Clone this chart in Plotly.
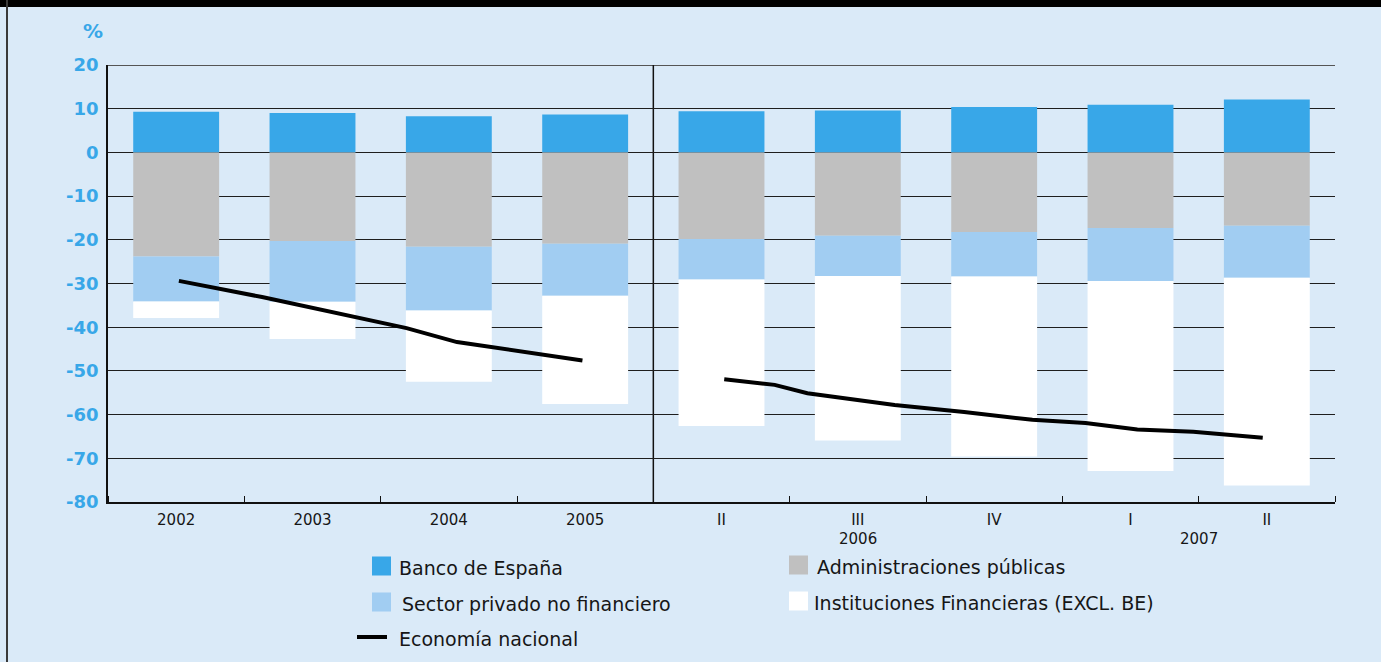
import plotly.graph_objects as go

# ---- data -------------------------------------------------------------
categories = ["2002", "2003", "2004", "2005", "II", "III", "IV", "I", "II"]
category_pos = list(range(len(categories)))

banco_espana = [9.3, 9.0, 8.3, 8.7, 9.4, 9.6, 10.4, 10.9, 12.1]
admin_publicas = [-23.8, -20.3, -21.6, -20.9, -19.8, -19.1, -18.2, -17.3, -16.8]
sector_privado = [-10.3, -13.9, -14.6, -11.9, -9.3, -9.2, -10.2, -12.1, -11.9]
inst_financieras = [-3.8, -8.5, -16.3, -24.8, -33.5, -37.6, -41.2, -43.5, -47.5]

# national economy: annual stretch, then the quarterly stretch
eco_x_annual = [0.02, 0.63, 1.69, 2.06, 2.98]
eco_y_annual = [-29.4, -33.1, -40.2, -43.4, -47.6]
eco_x_quarterly = [4.02, 4.39, 4.63, 5.27, 5.78, 6.28, 6.67, 7.05, 7.46, 7.97]
eco_y_quarterly = [-51.9, -53.2, -55.1, -57.8, -59.4, -61.2, -61.9, -63.4, -63.9, -65.3]

ytick_vals = [-80, -70, -60, -50, -40, -30, -20, -10, 0, 10, 20]
ytick_text = ["-80", "-70", "-60", "-50", "-40", "-30", "-20", "-10", "0", "10", "20"]

year_labels = ["2006", "2007"]
year_label_pos = [5.0, 7.5]

series_names = ["Banco de España", "Administraciones públicas",
                "Sector privado no financiero", "Instituciones Financieras (EXCL. BE)",
                "Economía nacional"]
series_colors = ["#38a7e8", "#c0c0c0", "#a1cdf2", "#ffffff", "#000000"]

# ---- page geometry ----------------------------------------------------
W, H = 1381, 662
ML, MR, MT, MB = 108, 46, 65, 160
PW, PH = W - ML - MR, H - MT - MB
BG = "#daeaf8"
BLUE_TXT = "#38a7e8"
TXT = "#161616"
FONT = "DejaVu Sans, Liberation Sans, sans-serif"


def px_x(px):
    return (px - ML) / PW


def px_y(py):
    return (H - MB - py) / PH


fig = go.Figure()

bar_series = [banco_espana, admin_publicas, sector_privado, inst_financieras]
for name, vals, col in zip(series_names[:4], bar_series, series_colors[:4]):
    fig.add_trace(go.Bar(
        x=category_pos, y=vals, name=name,
        marker=dict(color=col, line=dict(width=0)),
        showlegend=False,
    ))

fig.add_trace(go.Scatter(
    x=eco_x_annual + [None] + eco_x_quarterly,
    y=eco_y_annual + [None] + eco_y_quarterly,
    mode="lines", name=series_names[4],
    line=dict(color=series_colors[4], width=4),
    connectgaps=False, showlegend=False,
))

shapes = []
# top rule of the plotting area
shapes.append(dict(type="line", xref="paper", yref="y", x0=0, x1=1, y0=20, y1=20,
                   line=dict(color="#555555", width=2), layer="below"))
# separator between annual and quarterly data
shapes.append(dict(type="line", xref="x", yref="paper", x0=3.5, x1=3.5, y0=0, y1=1,
                   line=dict(color="#111111", width=1.5), layer="below"))
# dark band along the top and rule down the left edge
shapes.append(dict(type="rect", xref="paper", yref="paper",
                   x0=px_x(-5), x1=px_x(W + 5), y0=px_y(7), y1=px_y(-5),
                   fillcolor="#000000", line=dict(width=0), layer="above"))
shapes.append(dict(type="line", xref="paper", yref="paper",
                   x0=px_x(7), x1=px_x(7), y0=px_y(H + 5), y1=px_y(0),
                   line=dict(color="#3a3a3a", width=2), layer="above"))

annotations = []
annotations.append(dict(text="<b>%</b>", xref="paper", yref="paper",
                        x=px_x(93), y=px_y(31), showarrow=False,
                        xanchor="center", yanchor="middle",
                        font=dict(family=FONT, size=20, color=BLUE_TXT)))
for lab, pos in zip(year_labels, year_label_pos):
    annotations.append(dict(text=lab, xref="x", yref="paper", x=pos, y=px_y(539),
                            showarrow=False, xanchor="center", yanchor="middle",
                            font=dict(family=FONT, size=15, color=TXT)))

# legend, laid out in two columns
legend_layout = [
    # (series index, marker left px, marker centre y px, text left px)
    (0, 372, 566, 397),
    (2, 372, 602, 400),
    (4, 357, 637, 397),
    (1, 789, 565, 815),
    (3, 789, 601, 812),
]
for idx, mx, my, tx in legend_layout:
    if idx == 4:
        shapes.append(dict(type="line", xref="paper", yref="paper",
                           x0=px_x(mx), x1=px_x(mx + 30), y0=px_y(my), y1=px_y(my),
                           line=dict(color=series_colors[idx], width=4)))
    else:
        shapes.append(dict(type="rect", xref="paper", yref="paper",
                           x0=px_x(mx), x1=px_x(mx + 19),
                           y0=px_y(my + 9.5), y1=px_y(my - 9.5),
                           fillcolor=series_colors[idx], line=dict(width=0)))
    annotations.append(dict(text=series_names[idx], xref="paper", yref="paper",
                            x=px_x(tx), y=px_y(my + 2), showarrow=False,
                            xanchor="left", yanchor="middle",
                            font=dict(family=FONT, size=19, color=TXT)))

fig.update_layout(
    width=W, height=H,
    margin=dict(l=ML, r=MR, t=MT, b=MB, pad=0),
    paper_bgcolor=BG, plot_bgcolor=BG,
    barmode="relative", bargap=0.37,
    shapes=shapes, annotations=annotations,
    font=dict(family=FONT, color=TXT),
    xaxis=dict(
        range=[-0.5, 8.5], tickmode="array", tickvals=category_pos, ticktext=categories,
        ticks="", showgrid=False, zeroline=False,
        showline=True, linecolor="#111111", linewidth=1.5,
        tickfont=dict(family=FONT, size=15, color=TXT),
        ticklabelstandoff=3,
        minor=dict(tickmode="linear", tick0=-0.5, dtick=1, ticks="inside",
                   ticklen=6, tickwidth=1.2, tickcolor="#111111", showgrid=False),
    ),
    yaxis=dict(
        range=[-80, 20], tickmode="array", tickvals=ytick_vals, ticktext=ytick_text,
        ticks="", showgrid=True, gridcolor="#1e1e1e", gridwidth=1,
        zeroline=True, zerolinecolor="#1e1e1e", zerolinewidth=1,
        showline=True, linecolor="#111111", linewidth=1.5,
        tickfont=dict(family=FONT, size=18, color=BLUE_TXT, weight="bold"),
        ticklabelstandoff=4,
    ),
)

fig.write_html("out.html")
